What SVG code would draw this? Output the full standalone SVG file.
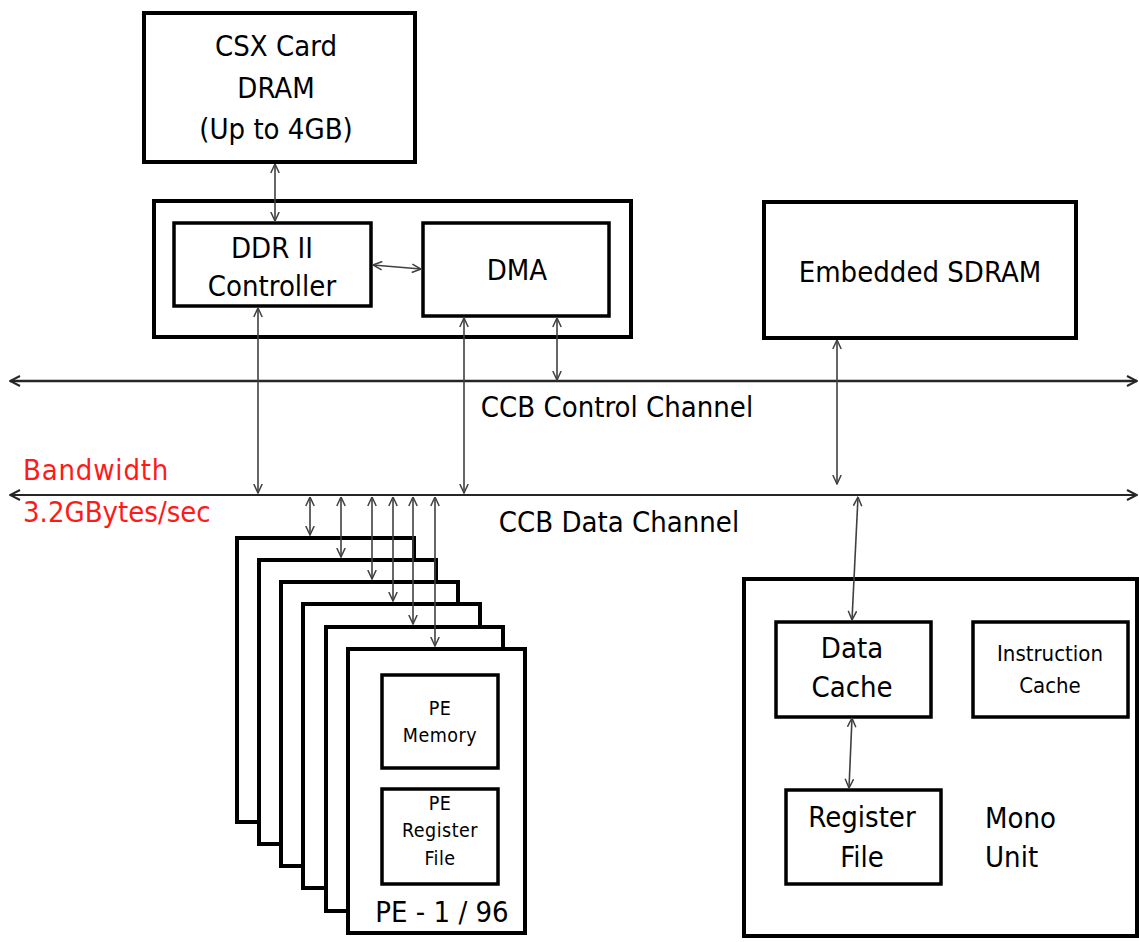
<svg xmlns="http://www.w3.org/2000/svg" width="1139" height="942" viewBox="0 0 1139 942">
  <style>
    .box { fill: #fff; stroke: #000; stroke-width: 4; }
    .inner { fill: #fff; stroke: #000; stroke-width: 3.5; }
    .lbl { font-family: "DejaVu Sans Condensed", "DejaVu Sans", "Liberation Sans", sans-serif; font-size: 29px; fill: #000; text-anchor: middle; dominant-baseline: central; }
    .sm { font-size: 22px; }
    .xs { font-size: 19.5px; letter-spacing: 0.5px; }
    .left { text-anchor: start; }
    .red { fill: #ff1a1a; }
    .bus { fill: none; stroke: #262626; stroke-width: 2.5; marker-start: url(#bh); marker-end: url(#bh); }
    .link { fill: none; stroke: #404040; stroke-width: 1.6; marker-start: url(#ah); marker-end: url(#ah); }
  </style>
  <defs>
    <marker id="ah" viewBox="0 0 10 10" refX="9.5" refY="5" markerWidth="10" markerHeight="10" markerUnits="userSpaceOnUse" orient="auto-start-reverse">
      <path d="M0.5,0.8 L9.5,5 L0.5,9.2" fill="none" stroke="#404040" stroke-width="1.5"/>
    </marker>
    <marker id="bh" viewBox="0 0 12 12" refX="11" refY="6" markerWidth="12" markerHeight="12" markerUnits="userSpaceOnUse" orient="auto-start-reverse">
      <path d="M1,1 L11,6 L1,11" fill="none" stroke="#262626" stroke-width="2"/>
    </marker>
  </defs>

  <rect width="1139" height="942" fill="#fff"/>

  <!-- off-chip memory -->
  <g id="csx-dram">
    <rect class="box" x="144" y="13" width="271" height="149"/>
    <text class="lbl" x="276" y="46">CSX Card</text>
    <text class="lbl" x="276" y="88">DRAM</text>
    <text class="lbl" x="276" y="129">(Up to 4GB)</text>
  </g>

  <!-- memory interface block -->
  <g id="mem-interface">
    <rect class="box" x="154" y="201" width="477" height="136"/>
    <g id="ddr-controller">
      <rect class="inner" x="174" y="223" width="197" height="83"/>
      <text class="lbl" x="272" y="248">DDR II</text>
      <text class="lbl" x="272" y="286">Controller</text>
    </g>
    <g id="dma">
      <rect class="inner" x="423" y="223" width="186" height="93"/>
      <text class="lbl" x="517" y="270">DMA</text>
    </g>
  </g>

  <g id="embedded-sdram">
    <rect class="box" x="764" y="202" width="312" height="136"/>
    <text class="lbl" x="920" y="272">Embedded SDRAM</text>
  </g>

  <!-- bus labels -->
  <g id="bus-labels">
    <text class="lbl" x="617" y="407">CCB Control Channel</text>
    <text class="lbl" x="619" y="522">CCB Data Channel</text>
    <text class="lbl left red" x="23" y="470" style="letter-spacing:0.8px">Bandwidth</text>
    <text class="lbl left red" x="23" y="512">3.2GBytes/sec</text>
  </g>

  <!-- stacked processing elements -->
  <g id="pe-array">
    <rect class="box" x="237" y="538" width="177" height="284"/>
    <rect class="box" x="259" y="560" width="177" height="284"/>
    <rect class="box" x="281" y="582" width="177" height="284"/>
    <rect class="box" x="303" y="604" width="177" height="284"/>
    <rect class="box" x="326" y="627" width="177" height="284"/>
    <rect class="box" x="348" y="649" width="177" height="284"/>
    <g id="pe-memory">
      <rect class="inner" x="382" y="675" width="116" height="93"/>
      <text class="lbl xs" x="440" y="708">PE</text>
      <text class="lbl xs" x="440" y="735">Memory</text>
    </g>
    <g id="pe-register-file">
      <rect class="inner" x="382" y="789" width="116" height="95"/>
      <text class="lbl xs" x="440" y="803">PE</text>
      <text class="lbl xs" x="440" y="830">Register</text>
      <text class="lbl xs" x="440" y="858">File</text>
    </g>
    <text class="lbl" x="442" y="912">PE - 1 / 96</text>
  </g>

  <!-- mono execution unit -->
  <g id="mono-unit">
    <rect class="box" x="744" y="579" width="393" height="357"/>
    <g id="data-cache">
      <rect class="inner" x="776" y="622" width="155" height="95"/>
      <text class="lbl" x="852" y="648">Data</text>
      <text class="lbl" x="852" y="687">Cache</text>
    </g>
    <g id="instruction-cache">
      <rect class="inner" x="973" y="622" width="155" height="95"/>
      <text class="lbl sm" x="1050" y="653">Instruction</text>
      <text class="lbl sm" x="1050" y="685">Cache</text>
    </g>
    <g id="register-file">
      <rect class="inner" x="786" y="790" width="155" height="94"/>
      <text class="lbl" x="862" y="817">Register</text>
      <text class="lbl" x="862" y="857">File</text>
    </g>
    <text class="lbl left" x="985" y="818">Mono</text>
    <text class="lbl left" x="985" y="857">Unit</text>
  </g>

  <!-- buses and links -->
  <g id="connectors">
    <line class="bus" x1="10" y1="381" x2="1137" y2="381"/>
    <line class="bus" x1="10" y1="495" x2="1137" y2="495" style="stroke-width:2"/>

    <line class="link" x1="275" y1="164" x2="275" y2="221"/>
    <line class="link" x1="373" y1="265" x2="421" y2="269"/>
    <line class="link" x1="258" y1="308" x2="258" y2="493"/>
    <line class="link" x1="464" y1="318" x2="464" y2="493"/>
    <line class="link" x1="557" y1="318" x2="557" y2="380"/>
    <line class="link" x1="837" y1="340" x2="837" y2="484"/>
    <line class="link" x1="858" y1="497" x2="852" y2="620"/>
    <line class="link" x1="852" y1="718" x2="849" y2="788"/>

    <line class="link" x1="310" y1="497" x2="310" y2="535"/>
    <line class="link" x1="341" y1="497" x2="341" y2="557"/>
    <line class="link" x1="372" y1="497" x2="372" y2="579"/>
    <line class="link" x1="393" y1="497" x2="393" y2="601"/>
    <line class="link" x1="413" y1="497" x2="413" y2="624"/>
    <line class="link" x1="435" y1="497" x2="435" y2="646"/>
  </g>
</svg>
